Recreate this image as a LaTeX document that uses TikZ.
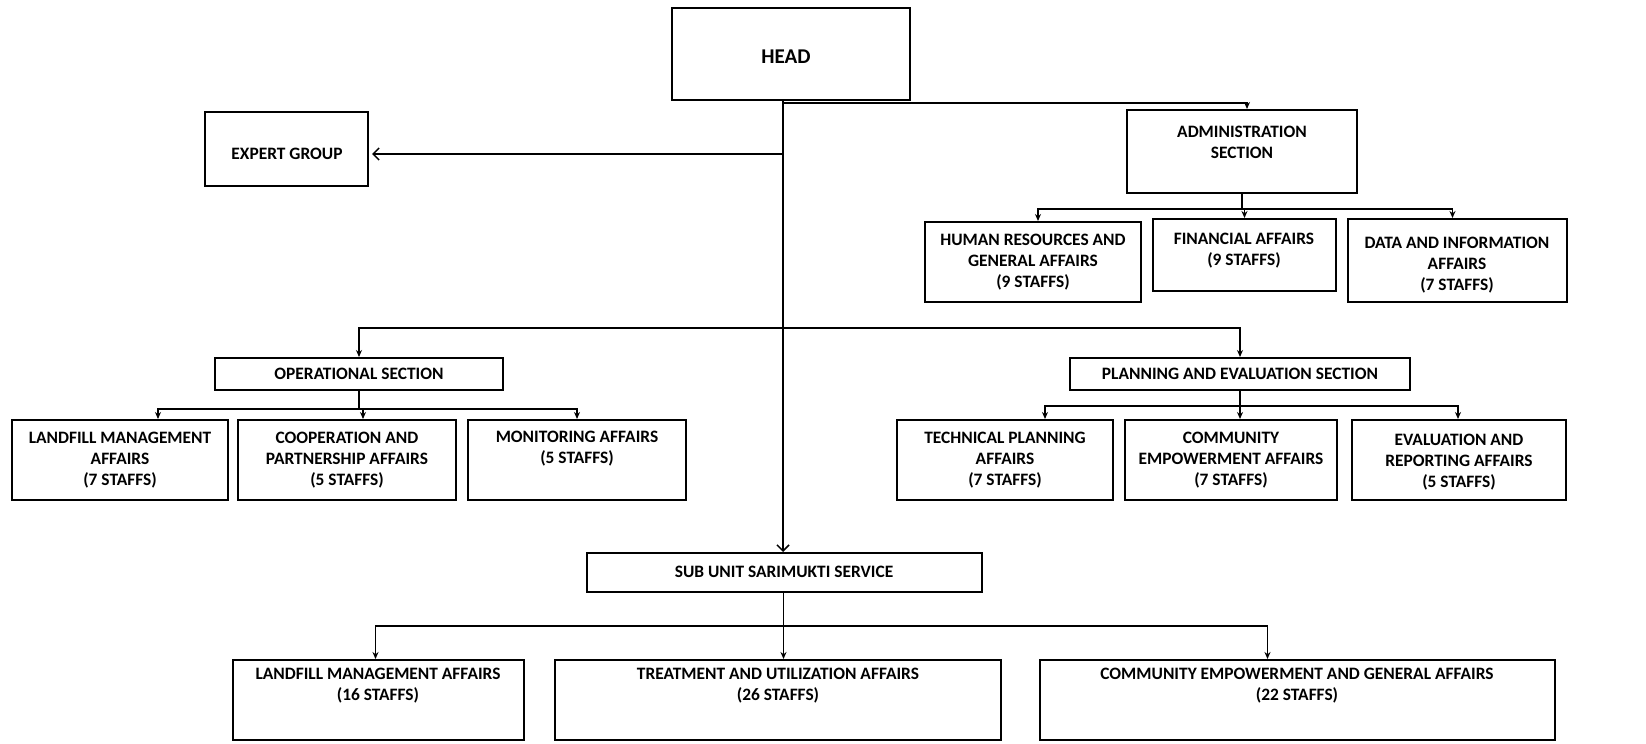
\documentclass[tikz,border=0pt]{standalone}
\usepackage{fontspec}
\setmainfont{Carlito}
\usetikzlibrary{arrows.meta,calc}
\newcommand\obox[5]{\node[boxst, minimum width={(#4-#2)*0.5pt}, minimum height={(#5-#3)*0.5pt}] (#1) at ({(#2+#4)/2},{(#3+#5)/2}) {};}
\begin{document}
\begin{tikzpicture}[x=0.5pt,y=-0.5pt,
  boxst/.style={draw, line width=1pt, inner sep=0pt},
  txt/.style={font=\fontsize{8.7}{10.5}\selectfont\bfseries, align=center, inner sep=0pt},
  bigtxt/.style={font=\fontsize{10.5}{12}\selectfont\bfseries, align=center, inner sep=0pt},
  conn/.style={line width=0.75pt},
  arr/.style={conn, -{Stealth[length=3.5pt,width=3pt]}},
  oarr/.style={conn, -{Straight Barb[length=3pt,width=6pt]}}]
\useasboundingbox (0,0) rectangle (1646,744);
\fill[white] (0,0) rectangle (1646,744);

% boxes
\obox{head}{672}{8}{910}{100}
\obox{expert}{205}{112}{368}{186}
\obox{admin}{1127}{110}{1357}{193}
\obox{hr}{925}{222}{1141}{302}
\obox{fin}{1153}{219}{1336}{291}
\obox{data}{1348}{219}{1567}{302}
\obox{ops}{215}{358}{503}{390}
\obox{plan}{1070}{358}{1410}{390}
\obox{land}{12}{420}{228}{500}
\obox{coop}{238}{420}{456}{500}
\obox{mon}{468}{420}{686}{500}
\obox{tech}{897}{420}{1113}{500}
\obox{comm}{1125}{420}{1337}{500}
\obox{eval}{1352}{420}{1566}{500}
\obox{sub}{587}{553}{982}{592}
\obox{landb}{233}{660}{524}{740}
\obox{treat}{555}{660}{1001}{740}
\obox{commb}{1040}{660}{1555}{740}

% texts
\node[bigtxt] (headT) at (786,57) {HEAD};
\node[txt] (expertT) at (287,154) {EXPERT GROUP};
\node[txt] (adminT) at (1242,142) {ADMINISTRATION\\SECTION};
\node[txt] (hrT) at (1033,262) {HUMAN RESOURCES AND\\GENERAL AFFAIRS\\(9 STAFFS)};
\node[txt] (finT) at (1244,251) {FINANCIAL AFFAIRS\\(9 STAFFS)};
\node[txt] (dataT) at (1457,265) {DATA AND INFORMATION\\AFFAIRS\\(7 STAFFS)};
\node[txt] (opsT) at (359,374) {OPERATIONAL SECTION};
\node[txt] (planT) at (1240,374) {PLANNING AND EVALUATION SECTION};
\node[txt] (landT) at (120,460) {LANDFILL MANAGEMENT\\AFFAIRS\\(7 STAFFS)};
\node[txt] (coopT) at (347,460) {COOPERATION AND\\PARTNERSHIP AFFAIRS\\(5 STAFFS)};
\node[txt] (monT) at (577,449) {MONITORING AFFAIRS\\(5 STAFFS)};
\node[txt] (techT) at (1005,460) {TECHNICAL PLANNING\\AFFAIRS\\(7 STAFFS)};
\node[txt] (commT) at (1231,460) {COMMUNITY\\EMPOWERMENT AFFAIRS\\(7 STAFFS)};
\node[txt] (evalT) at (1459,462) {EVALUATION AND\\REPORTING AFFAIRS\\(5 STAFFS)};
\node[txt] (subT) at (784,572) {SUB UNIT SARIMUKTI SERVICE};
\node[txt] (landbT) at (378,686) {LANDFILL MANAGEMENT AFFAIRS\\(16 STAFFS)};
\node[txt] (treatT) at (778,686) {TREATMENT AND UTILIZATION AFFAIRS\\(26 STAFFS)};
\node[txt] (commbT) at (1297,686) {COMMUNITY EMPOWERMENT AND GENERAL AFFAIRS\\(22 STAFFS)};

% connectors
\coordinate (h0) at (783,100);
\coordinate (h1) at (783,103);
\coordinate (h2) at (783,328);
\draw[oarr] (h0) -- (h0 |- sub.north);
\draw[oarr] ($(h0 |- expert.east)+(0,5)$) -- ($(expert.east)+(3,5)$);
\draw[arr] (h1) -| ($(admin.north)+(5,0)$);
\draw[arr] (h2) -| (ops.north);
\draw[arr] (h2) -| (plan.north);

\path (admin.south) ++(0,15) coordinate (a0);
\draw[conn] (admin.south) -- (a0);
\draw[arr] (a0) -| ($(hr.north)+(5,0)$);
\draw[arr] (a0) -| (fin.north);
\draw[arr] (a0) -| ($(data.north)+(-5,0)$);

\path (ops.south) ++(0,18) coordinate (o0);
\draw[conn] (ops.south) -- (o0);
\draw[arr] (o0) -| ($(land.north)+(38,0)$);
\draw[arr] (o0) -| ($(coop.north)+(16,0)$);
\draw[arr] (o0) -| (mon.north);

\path (plan.south) ++(0,15) coordinate (p0);
\draw[conn] (plan.south) -- (p0);
\draw[arr] (p0) -| ($(tech.north)+(40,0)$);
\draw[arr] (p0) -| ($(comm.north)+(9,0)$);
\draw[arr] (p0) -| ($(eval.north)+(-1,0)$);

\path (sub.south) ++(-1,33) coordinate (s0);
\draw[arr] (sub.south -| s0) -- (s0 |- treat.north);
\draw[arr] (s0) -| ($(landb.north)+(-3,0)$);
\draw[arr] (s0) -| ($(commb.north)+(-30,0)$);
\end{tikzpicture}
\end{document}
